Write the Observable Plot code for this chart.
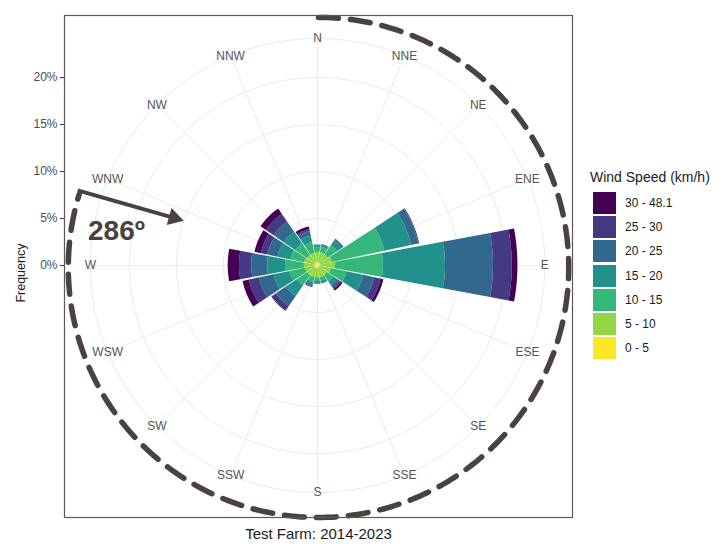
<!DOCTYPE html>
<html>
<head>
<meta charset="utf-8">
<script src="https://cdn.jsdelivr.net/npm/d3@7"></script>
<script src="https://cdn.jsdelivr.net/npm/@observablehq/plot@0.6"></script>
<style>
  body { margin: 0; background: #fff; }
  #wrap { position: relative; width: 726px; height: 546px; font-family: "Liberation Sans", Arial, sans-serif; }
  #chart { position: absolute; left: 0; top: 0; }
  #legend { position: absolute; left: 590px; top: 169px; }
  #legend .title { font-size: 14px; color: #1a1a1a; margin-bottom: 6px; white-space: nowrap; }
  #legend .row { display: flex; align-items: center; height: 24.2px; }
  #legend .sw { width: 23px; height: 22px; margin-left: 3px; }
  #legend .lab { font-size: 12px; color: #1a1a1a; margin-left: 9px; }
</style>
</head>
<body>
<div id="wrap"><div id="chart"></div><div id="legend"></div></div>
<script>
// ---- data (percent of time, per direction and speed bin) ----
const directions = ["N","NNE","NE","ENE","E","ESE","SE","SSE","S","SSW","SW","WSW","W","WNW","NW","NNW"];
const speedBins = ["0 - 5","5 - 10","10 - 15","15 - 20","20 - 25","25 - 30","30 - 48.1"];
const binColors = ["#fde725","#90d743","#35b779","#21918c","#31688e","#443983","#440154"];
const speed0_5   = [0.3,0.3,0.3,0.3,0.3,0.3,0.3,0.3,0.3,0.3,0.3,0.3,0.3,0.3,0.3,0.3];
const speed5_10  = [1.1,1.1,1.1,1.3,1.6,1.2,1.0,1.0,1.0,1.0,1.0,1.0,1.1,1.1,1.0,1.0];
const speed10_15 = [0.5,0.6,1.2,5.7,5.1,1.7,0.8,0.4,0.4,0.5,1.3,1.7,2.0,1.5,1.5,1.2];
const speed15_20 = [0.2,0.2,0.6,2.9,6.6,1.8,0.5,0.2,0.2,0.3,1.4,1.7,1.9,1.4,1.5,0.7];
const speed20_25 = [0.1,0.1,0.2,0.8,5.1,1.2,0.3,0.1,0.1,0.2,1.3,1.6,1.7,1.1,1.3,0.5];
const speed25_30 = [0.0,0.0,0.0,0.1,2.0,0.7,0.2,0.0,0.0,0.1,0.5,1.1,1.3,0.7,1.0,0.2];
const speed30_48 = [0.0,0.0,0.0,0.0,0.6,0.3,0.2,0.0,0.0,0.0,0.1,0.7,1.2,0.7,0.7,0.3];
const radialTicks = [0, 5, 10, 15, 20];
const annotationLabel = "286º";
const annotationAngle = 286;
const xTitle = "Test Farm: 2014-2023";
const yTitle = "Frequency";
const legendTitle = "Wind Speed (km/h)";

// ---- build geometry from data ----
const series = [speed0_5, speed5_10, speed10_15, speed15_20, speed20_25, speed25_30, speed30_48];
const rad = Math.PI / 180;
const step = 360 / directions.length;
const barWidth = 21;          // degrees per wedge
const labelR = 24.15;         // ring where direction labels sit
const wedgeRows = [];
directions.forEach((d, i) => {
  let cum = 0;
  speedBins.forEach((b, j) => {
    const v = series[j][i];
    const r0 = cum, r1 = cum + v;
    cum = r1;
    if (v <= 0) return;
    const n = 16;
    for (let k = 0; k <= n; k++) {
      const a = (i * step - barWidth / 2 + barWidth * k / n) * rad;
      wedgeRows.push({id: d + "|" + b, bin: b,
        xi: r0 * Math.sin(a), yi: r0 * Math.cos(a),
        xo: r1 * Math.sin(a), yo: r1 * Math.cos(a)});
    }
  });
});

const ringRows = [];
[5, 10, 15, 20, labelR].forEach(r => {
  for (let k = 0; k <= 180; k++) {
    const a = k * 2 * rad;
    ringRows.push({r, x: r * Math.sin(a), y: r * Math.cos(a)});
  }
});

const dirRows = directions.map((d, i) => ({d, x: labelR * Math.sin(i * step * rad), y: labelR * Math.cos(i * step * rad)}));

// dashed annotation arc (from N clockwise to the annotated angle)
const arcR = 26.6, arcCx = 0.1, arcCy = -0.2;
const arcRows = [];
for (let a = 0; a <= annotationAngle + 1; a += 1) {
  arcRows.push({x: arcCx + arcR * Math.sin(a * rad), y: arcCy + arcR * Math.cos(a * rad)});
}

// annotation arrow: shaft + solid triangular head
const arrowStart = {x: -25.5, y: 8.0};
const arrowTip = {x: -14.3, y: 4.8};
const adx = arrowTip.x - arrowStart.x, ady = arrowTip.y - arrowStart.y;
const alen = Math.hypot(adx, ady);
const headBack = 1.0; // data units from tip to triangle centre
const headCenter = {x: arrowTip.x - adx / alen * headBack, y: arrowTip.y - ady / alen * headBack};
const headRotate = 90 - Math.atan2(ady, adx) / rad;

const ink = "#4a4240";
const plot = Plot.plot({
  width: 726,
  height: 546,
  marginLeft: 64,
  marginRight: 154,
  marginTop: 15,
  marginBottom: 29,
  style: {fontFamily: '"Liberation Sans", Arial, sans-serif', color: "#4d4d4d", background: "white"},
  x: {domain: [-26.9, 27.1], axis: null},
  y: {domain: [-26.8, 26.6], axis: null},
  color: {domain: speedBins, range: binColors},
  marks: [
    Plot.line(ringRows, {x: "x", y: "y", z: "r", stroke: "#ebebeb", strokeWidth: 1}),
    Plot.link(dirRows, {x1: 0, y1: 0, x2: "x", y2: "y", stroke: "#ebebeb", strokeWidth: 1}),
    Plot.area(wedgeRows, {x1: "xi", y1: "yi", x2: "xo", y2: "yo", z: "id", fill: "bin"}),
    Plot.text(dirRows, {x: "x", y: "y", text: "d", fontSize: 12, fill: "#555555"}),
    Plot.line(arcRows, {x: "x", y: "y", stroke: ink, strokeWidth: 5.5, strokeDasharray: "20,12"}),
    Plot.link([{x1: arrowStart.x, y1: arrowStart.y, x2: headCenter.x, y2: headCenter.y}], {x1: "x1", y1: "y1", x2: "x2", y2: "y2", stroke: ink, strokeWidth: 4}),
    Plot.dot([headCenter], {x: "x", y: "y", symbol: "triangle", r: 6.5, fill: ink, stroke: "none", rotate: headRotate}),
    Plot.text([annotationLabel], {x: -24.4, y: 3.7, textAnchor: "start", fontSize: 28, fontWeight: "bold", fill: ink}),
    Plot.axisY(radialTicks, {anchor: "left", tickFormat: d => d + "%", tickSize: 4, tickPadding: 3, fontSize: 12, label: null, stroke: "#333"}),
    Plot.text([yTitle], {x: -26.9, y: -0.8, dx: -44, rotate: -90, fontSize: 12.5, fill: "#1a1a1a"}),
    Plot.text([xTitle], {frameAnchor: "bottom", dy: 21, fontSize: 15, fill: "#1a1a1a"}),
    Plot.frame({stroke: "#595959", strokeWidth: 1.2})
  ]
});
document.getElementById("chart").appendChild(plot);

// legend (colors from the plot's own color scale)
const colorScale = plot.scale("color");
const legend = document.getElementById("legend");
const t = document.createElement("div");
t.className = "title"; t.textContent = legendTitle;
legend.appendChild(t);
speedBins.slice().reverse().forEach(b => {
  const row = document.createElement("div"); row.className = "row";
  const sw = document.createElement("div"); sw.className = "sw"; sw.style.background = colorScale.apply(b);
  const lab = document.createElement("div"); lab.className = "lab"; lab.textContent = b;
  row.appendChild(sw); row.appendChild(lab); legend.appendChild(row);
});
</script>
</body>
</html>
